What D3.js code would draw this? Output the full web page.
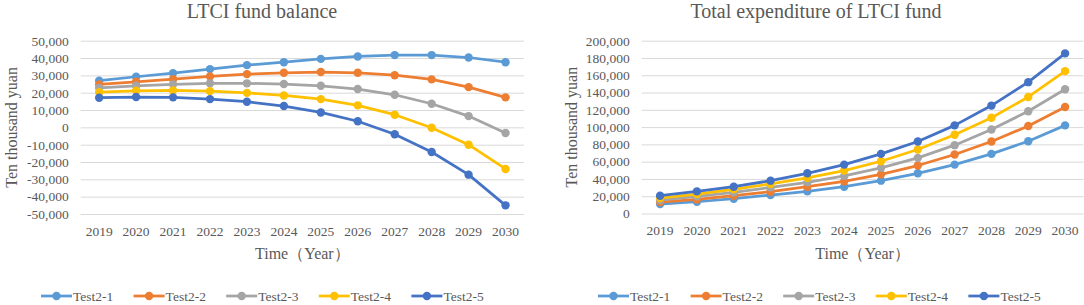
<!DOCTYPE html>
<html>
<head>
<meta charset="utf-8">
<script src="https://cdn.jsdelivr.net/npm/d3@7/dist/d3.min.js"></script>
<style>
  html, body { margin: 0; padding: 0; background: #fff; }
  svg { display: block; }
  svg text { font-family: "Liberation Serif", "Times New Roman", serif !important; }
</style>
</head>
<body>
<svg id="chart" width="1084" height="305"></svg>
<script>
// Years on the category axis
const years = ['2019', '2020', '2021', '2022', '2023', '2024', '2025', '2026', '2027', '2028', '2029', '2030'];
const seriesNames = ['Test2-1', 'Test2-2', 'Test2-3', 'Test2-4', 'Test2-5'];
const seriesColors = ['#5b9bd5', '#ed7d31', '#a5a5a5', '#ffc000', '#4472c4'];

// LTCI fund balance (ten thousand yuan)
const balance1 = [26900, 29200, 31300, 33600, 35900, 37600, 39500, 40900, 41700, 41700, 40300, 37600];
const balance2 = [24800, 26300, 27800, 29400, 30700, 31500, 31900, 31500, 30100, 27700, 23200, 17300];
const balance3 = [22800, 24000, 24800, 25400, 25400, 25000, 24000, 22100, 18800, 13600, 6500, -3300];
const balance4 = [20300, 21100, 21300, 20900, 19900, 18400, 16300, 12700, 7300, -200, -10000, -24000];
const balance5 = [17100, 17500, 17300, 16300, 14800, 12300, 8600, 3500, -4000, -14200, -27300, -45000];
const balanceTicks = [-50000, -40000, -30000, -20000, -10000, 0, 10000, 20000, 30000, 40000, 50000];

// Total expenditure of LTCI fund (ten thousand yuan)
const expend1 = [10900, 13600, 17100, 21400, 25600, 31000, 38000, 46500, 56600, 69000, 83700, 102000];
const expend2 = [13300, 16300, 20600, 25200, 31000, 37200, 45300, 55500, 68300, 83400, 101200, 123300];
const expend3 = [15600, 19800, 24400, 30200, 36000, 43500, 52800, 64400, 79100, 97300, 118300, 143800];
const expend4 = [17900, 22500, 27900, 34200, 41200, 49700, 60500, 74100, 91200, 110900, 134900, 164800];
const expend5 = [20600, 25600, 31000, 38000, 46500, 56600, 69000, 83400, 102000, 124900, 152000, 185300];
const expendTicks = [0, 20000, 40000, 60000, 80000, 100000, 120000, 140000, 160000, 180000, 200000];

const textColor = '#595959';
const gridColor = '#d9d9d9';
const fmt = d => d3.format(',')(d).replace('\u2212', '-');

const svg = d3.select('#chart');

function drawPanel(opts) {
  const g = svg.append('g');
  const x = d3.scaleBand().domain(years).range([opts.left, opts.right]).padding(0);
  const y = d3.scaleLinear().domain(d3.extent(opts.ticks)).range([opts.bottom, opts.top]);
  const cx = d => x(d) + x.bandwidth() / 2;

  // Title
  g.append('text')
    .attr('x', opts.titleX).attr('y', 18)
    .attr('text-anchor', 'middle')
    .attr('font-size', '20px')
    .attr('fill', textColor)
    .text(opts.title);

  // Gridlines + value labels
  const yAxis = g.append('g')
    .attr('transform', `translate(${opts.left},0)`)
    .call(d3.axisLeft(y).tickValues(opts.ticks).tickFormat(fmt).tickSize(-(opts.right - opts.left)).tickPadding(12));
  yAxis.select('.domain').remove();
  yAxis.selectAll('.tick line').attr('stroke', gridColor).attr('stroke-width', 1);
  yAxis.selectAll('.tick text').attr('fill', textColor).attr('font-size', '13.5px');

  // Category labels
  const xAxis = g.append('g')
    .attr('transform', `translate(0,${opts.bottom})`)
    .call(d3.axisBottom(x).tickSize(0).tickPadding(12));
  xAxis.select('.domain').remove();
  xAxis.selectAll('.tick text').attr('fill', textColor).attr('font-size', '13.5px');

  // Axis titles
  g.append('text')
    .attr('x', (opts.left + opts.right) / 2).attr('y', 259)
    .attr('text-anchor', 'middle')
    .attr('font-size', '16px')
    .attr('fill', textColor)
    .text('Time（Year）');

  g.append('text')
    .attr('transform', `translate(${opts.yTitleX},${(opts.top + opts.bottom) / 2}) rotate(-90)`)
    .attr('text-anchor', 'middle')
    .attr('font-size', '16px')
    .attr('fill', textColor)
    .text('Ten thousand yuan');

  // Series
  const line = d3.line().x((d, i) => cx(years[i])).y(d => y(d));
  opts.series.forEach((vals, k) => {
    g.append('path')
      .attr('d', line(vals))
      .attr('fill', 'none')
      .attr('stroke', seriesColors[k])
      .attr('stroke-width', 2.75)
      .attr('stroke-linejoin', 'round');
    g.selectAll(null).data(vals).enter().append('circle')
      .attr('cx', (d, i) => cx(years[i]))
      .attr('cy', d => y(d))
      .attr('r', 4.2)
      .attr('fill', seriesColors[k]);
  });

  // Legend
  const step = 92.6;
  seriesNames.forEach((name, k) => {
    const lx = opts.legendX + k * step;
    const ly = 296;
    g.append('line')
      .attr('x1', lx).attr('x2', lx + 31)
      .attr('y1', ly).attr('y2', ly)
      .attr('stroke', seriesColors[k]).attr('stroke-width', 2.75);
    g.append('circle')
      .attr('cx', lx + 15.5).attr('cy', ly).attr('r', 4.2)
      .attr('fill', seriesColors[k]);
    g.append('text')
      .attr('x', lx + 32).attr('y', ly + 4.5)
      .attr('font-size', '13.5px')
      .attr('fill', textColor)
      .text(name);
  });
}

drawPanel({
  title: 'LTCI fund balance',
  titleX: 262,
  left: 80.7, right: 524, top: 40.7, bottom: 214,
  yTitleX: 17,
  ticks: balanceTicks,
  series: [balance1, balance2, balance3, balance4, balance5],
  legendX: 41
});

drawPanel({
  title: 'Total expenditure of LTCI fund',
  titleX: 816,
  left: 641.7, right: 1083.5, top: 40.7, bottom: 213.5,
  yTitleX: 577,
  ticks: expendTicks,
  series: [expend1, expend2, expend3, expend4, expend5],
  legendX: 598
});
</script>
</body>
</html>
